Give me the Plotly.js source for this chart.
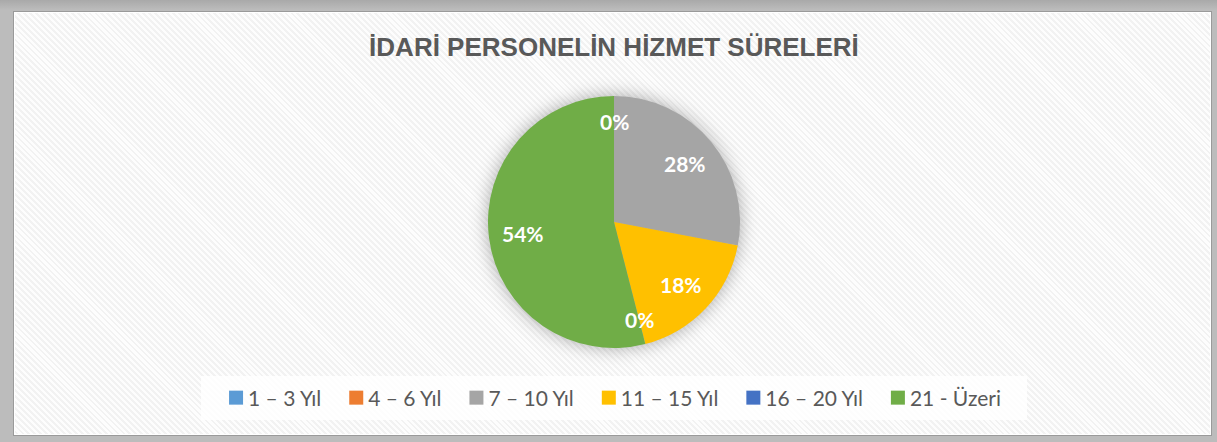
<!DOCTYPE html>
<html>
<head>
<meta charset="utf-8">
<script src="https://cdn.plot.ly/plotly-3.0.1.min.js"></script>
<style>
  html, body { margin: 0; padding: 0; width: 1217px; height: 442px; overflow: hidden; }
  body { background: #b2b2b2; position: relative; }
  #outer {
    position: absolute; left: 0; top: 0; width: 1217px; height: 442px;
    background: linear-gradient(180deg, #a9a9a9 0px, #bcbcbc 10px, #bcbcbc 100%);
  }
  #frame {
    position: absolute; left: 13px; top: 11px; width: 1199px; height: 425px;
    border: 1px solid #9a9a9a;
    box-sizing: border-box;
    background-color: #fdfdfd;
    background-image: repeating-linear-gradient(45deg, #fdfdfd 0px, #fdfdfd 2.2px, #f2f2f2 2.2px, #f2f2f2 4.2px);
    box-shadow: inset 0 0 0 1px #ffffff;
  }
  #legbox {
    position: absolute; left: 201px; top: 376px; width: 826px; height: 44px;
    background: rgba(255,255,255,0.8);
  }
  #chart { position: absolute; left: 0; top: 0; width: 1217px; height: 442px; }
  .pielayer .trace { filter: drop-shadow(0 0 9px rgba(0,0,0,0.32)); }
</style>
</head>
<body>
<div id="outer"></div>
<div id="frame"></div>
<div id="legbox"></div>
<div id="chart"></div>
<script>
const chartTitle = "İDARİ PERSONELİN HİZMET SÜRELERİ";
const categories = ["1 – 3 Yıl", "4 – 6 Yıl", "7 – 10 Yıl", "11 – 15 Yıl", "16 – 20 Yıl", "21 - Üzeri"];
const percentValues = [0, 0, 28, 18, 0, 54];
const sliceColors = ["#5B9BD5", "#ED7D31", "#A5A5A5", "#FFC000", "#4472C4", "#70AD47"];

// pie geometry (styling, in pixels)
const W = 1217, H = 442;
const CX = 614, CY = 222, R = 126;

const trace = {
  type: "pie",
  labels: categories,
  values: percentValues,
  sort: false,
  direction: "clockwise",
  rotation: 0,
  marker: { colors: sliceColors, line: { width: 0 } },
  textinfo: "none",
  hoverinfo: "label+percent",
  domain: { x: [(CX - 200) / W, (CX + 200) / W], y: [1 - (CY + R) / H, 1 - (CY - R) / H] },
  showlegend: true
};

// data labels placed along each slice's bisector, derived from the values
const total = percentValues.reduce((a, b) => a + b, 0);
const annotations = [];
let cum = 0;
percentValues.forEach((v, i) => {
  const frac = v / total;
  const mid = (cum + frac / 2) * 2 * Math.PI;
  cum += frac;
  const rr = (v === 0 ? 0.80 : 0.73) * R;
  if (v === 0 && i === 1) return; // overlaps label of first zero slice at same angle
  annotations.push({
    xref: "paper", yref: "paper",
    x: (CX + rr * Math.sin(mid)) / W,
    y: 1 - (CY - rr * Math.cos(mid)) / H,
    xanchor: "center", yanchor: "middle",
    text: "<b>" + Math.round(frac * 100) + "%</b>",
    showarrow: false,
    font: { family: "Lato, 'Open Sans', sans-serif", size: 21, color: "#ffffff" }
  });
});

const layout = {
  width: W,
  height: H,
  margin: { l: 0, r: 0, t: 0, b: 0 },
  paper_bgcolor: "rgba(0,0,0,0)",
  plot_bgcolor: "rgba(0,0,0,0)",
  title: {
    text: "<b>" + chartTitle + "</b>",
    font: { family: "'Liberation Sans', Arial, sans-serif", size: 26, color: "#595959" },
    x: 0.5045, xanchor: "center",
    y: 1 - 47 / H, yanchor: "middle", yref: "paper"
  },
  legend: {
    orientation: "h",
    x: 0.505, xanchor: "center",
    y: 1 - 398 / H, yanchor: "middle",
    font: { family: "Lato, 'Open Sans', sans-serif", size: 21, color: "#595959" },
    bgcolor: "rgba(0,0,0,0)",
    itemwidth: 30,
    itemclick: false,
    traceorder: "normal"
  },
  annotations: annotations
};

Plotly.newPlot("chart", [trace], layout, { displayModeBar: false, staticPlot: true }).then(gd => {
  // legend spacing: square 14px marker, small gap, wider gap between items
  const items = Array.from(gd.querySelectorAll(".legend .traces"));
  if (!items.length) return;
  const half = 7, textGap = 5, itemGap = 28;
  const widths = [];
  items.forEach(g => {
    const txt = g.querySelector("text.legendtext");
    g.querySelectorAll(".legendpoints path").forEach(path => {
      path.setAttribute("d", "M" + half + "," + half + "H-" + half + "V-" + half + "H" + half + "Z");
      path.setAttribute("transform", "translate(" + half + ",0)");
    });
    if (txt) {
      txt.setAttribute("x", 2 * half + textGap);
      txt.querySelectorAll("tspan").forEach(t => { if (t.hasAttribute("x")) t.setAttribute("x", 2 * half + textGap); });
    }
    const tw = txt ? txt.getComputedTextLength() : 0;
    widths.push(2 * half + textGap + tw);
  });
  const totalW = widths.reduce((a, b) => a + b, 0) + itemGap * (widths.length - 1);
  const legendG = gd.querySelector(".legend");
  const re = /translate\(([-\d.]+)[ ,]+([-\d.]+)\)/;
  const m = re.exec(legendG.getAttribute("transform") || "");
  const lx = m ? parseFloat(m[1]) : 0;
  const fm = re.exec(items[0].getAttribute("transform") || "");
  const iy = fm ? parseFloat(fm[2]) : 0;
  let x = 615 - totalW / 2 - lx;
  items.forEach((g, i) => {
    g.setAttribute("transform", "translate(" + x + "," + iy + ")");
    x += widths[i] + itemGap;
  });
  const bg = legendG.querySelector("rect.bg");
  if (bg) bg.setAttribute("width", 0);
  const scroll = legendG.querySelector(".scrollbox");
  if (scroll) scroll.removeAttribute("clip-path");
});
</script>
</body>
</html>
